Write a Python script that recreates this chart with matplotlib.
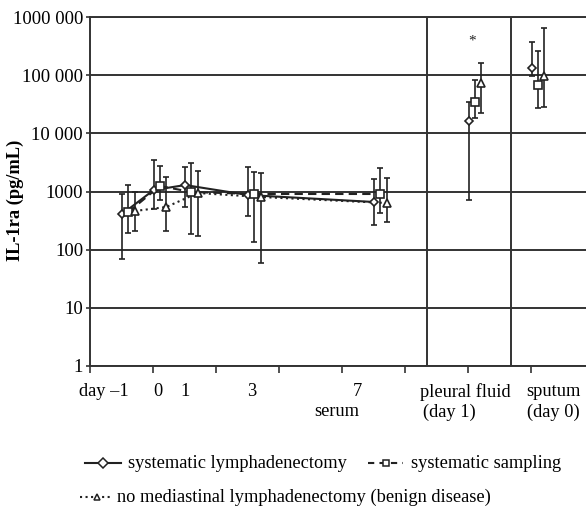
import numpy as np
import matplotlib.pyplot as plt
from matplotlib.lines import Line2D
from matplotlib.transforms import blended_transform_factory

plt.rcParams['font.family'] = ['Liberation Serif', 'DejaVu Serif']

# ---------------- data ----------------
group_x = [0.61, 1.11, 1.61, 2.61, 4.61, 6.11, 7.11]   # day -1, 0, 1, 3, 7, pleural, sputum
n_serum = 5
offset = 0.1

lymph_val = [410, 1060, 1290, 870, 660, 16300, 133000]
lymph_hi = [906, 3475, 2635, 2635, 1640, 34500, 372000]
lymph_lo = [69, 500, 541, 380, 265, 714, 96700]

sampl_val = [444, 1243, 980, 906, 906, 34500, 67600]
sampl_hi = [1292, 2742, 3090, 2164, 2535, 82600, 260000]
sampl_lo = [193, 714, 186, 135, 427, 18300, 27200]

benign_val = [462, 541, 942, 804, 634, 73200, 96700]
benign_hi = [980, 1775, 2250, 2080, 1706, 162000, 647000]
benign_lo = [209, 209, 172, 59, 299, 22300, 28300]

ytick_vals = [1, 10, 100, 1000, 10000, 100000, 1000000]
ytick_labels = ['1', '10', '100', '1000', '10 000', '100 000', '1000 000']

sep_x = [5.35, 6.68]
star_x, star_y = 6.06, 386000

# ---------------- figure ----------------
fig = plt.figure(figsize=(5.86, 5.08), dpi=100)
ax = fig.add_axes([90 / 586, 142 / 508, 504 / 586, 349 / 508])
ax.set_yscale('log')
ax.set_ylim(1, 1000000)
ax.set_xlim(0, 8)

ink = '#222222'
for v in ytick_vals:
    ax.axhline(v, color='#333333', lw=1.4, zorder=1)
for x in sep_x:
    ax.axvline(x, color='#333333', lw=1.4, zorder=1)

ax.set_yticks(ytick_vals)
ax.set_yticklabels(ytick_labels, fontsize=13.5)
ax.yaxis.set_minor_locator(plt.NullLocator())
ax.set_xticks(range(8))
ax.set_xticklabels([])
ax.tick_params(axis='x', direction='out', length=5, width=1.2, color='#333333')
ax.tick_params(axis='y', direction='out', length=3, width=1.2, color='#333333', pad=2)
for s in ax.spines.values():
    s.set_color('#333333')
    s.set_linewidth(1.4)

series = [
    (lymph_val, lymph_lo, lymph_hi, 'D', '-', -offset, 4.5),
    (sampl_val, sampl_lo, sampl_hi, 's', (0, (4, 2.5)), 0.0, 5.5),
    (benign_val, benign_lo, benign_hi, '^', ':', offset, 5.5),
]
for val, lo, hi, mk, ls, dx, ms in series:
    xs = np.array(group_x) + dx
    val = np.array(val)
    yerr = [val - np.array(lo), np.array(hi) - val]
    ax.errorbar(xs, val, yerr=yerr, fmt='none', ecolor=ink, elinewidth=1.2,
                capsize=2.5, capthick=1.2, zorder=3)
    ax.plot(xs[:n_serum], val[:n_serum], ls=ls, color=ink, lw=1.5, zorder=4)
    ax.plot(xs, val, ls='none', marker=mk, ms=ms, mfc='white', mec=ink, mew=1.2, zorder=5)

ax.text(star_x, star_y, '*', ha='center', va='center', fontsize=11, color=ink)

fig.text(15 / 586, 1 - 200 / 508, 'IL-1ra (pg/mL)', rotation=90, ha='center', va='center',
         fontsize=13.2, fontweight='bold')

# x labels
fs = 13.2
tr = blended_transform_factory(ax.transData, fig.transFigure)
y1 = (508 - 392) / 508
y2 = (508 - 412) / 508
ax.text(0.22, y1, 'day \u20131', transform=tr, ha='center', va='center', fontsize=fs)
ax.text(1.08, y1, '0', transform=tr, ha='center', va='center', fontsize=fs)
ax.text(1.51, y1, '1', transform=tr, ha='center', va='center', fontsize=fs)
ax.text(2.57, y1, '3', transform=tr, ha='center', va='center', fontsize=fs)
ax.text(4.25, y1, '7', transform=tr, ha='center', va='center', fontsize=fs)
ax.text(3.92, y2, 'serum', transform=tr, ha='center', va='center', fontsize=fs)
ax.text(5.24, y1, 'pleural fluid', transform=tr, ha='left', va='center', fontsize=fs)
ax.text(5.29, y2, '(day 1)', transform=tr, ha='left', va='center', fontsize=fs)
ax.text(6.92, y1, 'sputum', transform=tr, ha='left', va='center', fontsize=fs)
ax.text(6.94, y2, '(day 0)', transform=tr, ha='left', va='center', fontsize=fs)

# legend (manual)
def legend_item(x0, x1, xt, y, ls, mk, label):
    x0, x1, xt, y = x0 / 586, x1 / 586, xt / 586, 1 - y / 508
    fig.add_artist(Line2D([x0, x1], [y, y], transform=fig.transFigure, ls=ls,
                          color=ink, lw=1.5))
    fig.add_artist(Line2D([(x0 + x1) / 2], [y], transform=fig.transFigure, ls='none',
                          marker=mk, ms=5, mfc='white', mec=ink, mew=1.1))
    fig.text(xt, y, label, ha='left', va='center', fontsize=fs)

legend_item(85, 121, 128, 463, '-', 'D', 'systematic lymphadenectomy')
legend_item(368, 403, 411, 463, (0, (3, 2.5)), 's', 'systematic sampling')
legend_item(80, 113, 117, 497, ':', '^', 'no mediastinal lymphadenectomy (benign disease)')

fig.savefig('out.png', dpi=100)
